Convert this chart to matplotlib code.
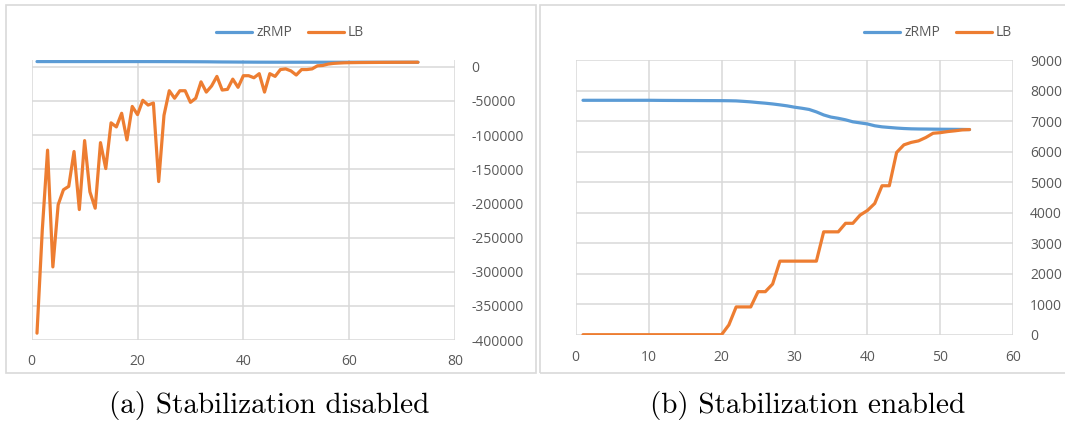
import matplotlib
matplotlib.use("Agg")
from matplotlib import pyplot as plt
from matplotlib.patches import Rectangle

# (a) stabilization disabled - iterations 1..73
iter_a = list(range(1, 74))
zrmp_a = [7700, 7700, 7700, 7700, 7700, 7700, 7700, 7700, 7700, 7700,
          7700, 7700, 7700, 7700, 7700, 7700, 7700, 7700, 7700, 7700,
          7690, 7680, 7670, 7660, 7640, 7620, 7600, 7570, 7540, 7500,
          7460, 7420, 7380, 7300, 7200, 7130, 7090, 7040, 6980, 6940,
          6900, 6850, 6810, 6790, 6770, 6760, 6750, 6745, 6740, 6738,
          6736, 6734, 6732, 6730, 6729, 6728, 6727, 6726, 6725, 6724,
          6723, 6722, 6722, 6721, 6721, 6721, 6720, 6720, 6720, 6720,
          6720, 6720, 6720]
lb_a = [-390000, -239000, -122000, -293000, -202000, -180000, -175000, -124000, -209000, -108000,
        -183000, -207000, -111000, -149000, -82000, -88000, -68000, -107000, -58000, -70000,
        -49000, -56000, -53000, -168000, -71000, -35000, -46000, -35000, -35000, -52000,
        -46000, -22000, -37000, -28000, -14000, -34000, -33000, -18000, -30000, -13000,
        -13000, -16000, -10000, -37000, -10000, -14000, -4000, -3000, -6000, -12000,
        -4000, -4000, -3000, 1500, 2000, 4000, 5000, 5500, 5900, 6100,
        6200, 6300, 6350, 6400, 6450, 6500, 6550, 6600, 6620, 6650,
        6680, 6700, 6720]

# (b) stabilization enabled - iterations 1..54
iter_b = list(range(1, 55))
zrmp_b = [7680, 7680, 7680, 7680, 7680, 7680, 7680, 7680, 7680, 7680,
          7678, 7676, 7675, 7674, 7673, 7672, 7671, 7670, 7669, 7668,
          7665, 7660, 7645, 7628, 7605, 7585, 7560, 7530, 7497, 7454,
          7420, 7380, 7300, 7200, 7130, 7090, 7040, 6975, 6940, 6905,
          6845, 6810, 6790, 6770, 6755, 6745, 6740, 6738, 6735, 6732,
          6730, 6728, 6725, 6721]
lb_b = [0, 0, 0, 0, 0, 0, 0, 0, 0, 0,
        0, 0, 0, 0, 0, 0, 0, 0, 0, 0,
        320, 910, 910, 910, 1410, 1410, 1660, 2410, 2410, 2410,
        2410, 2410, 2410, 3370, 3370, 3370, 3650, 3650, 3920, 4070,
        4300, 4880, 4880, 5970, 6220, 6300, 6350, 6460, 6600, 6620,
        6655, 6680, 6710, 6721]

yticks_a = [-400000, -350000, -300000, -250000, -200000, -150000, -100000, -50000, 0]
xticks_a = [0, 20, 40, 60, 80]
yticks_b = [0, 1000, 2000, 3000, 4000, 5000, 6000, 7000, 8000, 9000]
xticks_b = [0, 10, 20, 30, 40, 50, 60]

BLUE = '#5B9BD5'
ORANGE = '#ED7D31'
GRID = '#D9D9D9'
TXT = '#595959'

plt.rcParams['font.family'] = ['Open Sans', 'DejaVu Sans']
plt.rcParams['axes.unicode_minus'] = False

W, H = 1065, 424
fig = plt.figure(figsize=(W / 100, H / 100), dpi=100)


def px_box(x0, y0, x1, y1):
    # pixel box (top-left origin) -> figure fraction rect
    return [x0 / W, 1 - y1 / H, (x1 - x0) / W, (y1 - y0) / H]


# chart area borders
for x0, x1 in [(6, 536), (540, 1075)]:
    fig.patches.append(Rectangle((x0 / W, 1 - 373 / H), (x1 - x0) / W, 368 / H,
                                 transform=fig.transFigure, fill=False,
                                 edgecolor=GRID, linewidth=1.2))

ax_a = fig.add_axes(px_box(31.7, 60, 455, 340))
ax_b = fig.add_axes(px_box(575.7, 60, 1013.3, 334.7))


def style(ax, xt, yt, ylim, xpad):
    ax.set_xlim(xt[0], xt[-1])
    ax.set_ylim(*ylim)
    ax.set_xticks(xt)
    ax.set_yticks(yt)
    ax.set_xticklabels([str(v) for v in xt])
    ax.set_yticklabels([str(v) for v in yt])
    ax.yaxis.tick_right()
    ax.tick_params(length=0, labelsize=10, labelcolor=TXT)
    ax.tick_params(axis='y', pad=12)
    ax.tick_params(axis='x', pad=xpad)
    for s in ax.spines.values():
        s.set_visible(False)
    ax.grid(True, color=GRID, linewidth=1.1)
    ax.set_axisbelow(True)


style(ax_a, xticks_a, yticks_a, (-400000, 10000), 10)
style(ax_b, xticks_b, yticks_b, (0, 9000), 11)

for ax, it, z, lb, cx in [(ax_a, iter_a, zrmp_a, lb_a, 290),
                          (ax_b, iter_b, zrmp_b, lb_b, 938)]:
    ax.plot(it, z, color=BLUE, lw=2.3, label='zRMP', solid_capstyle='round')
    ax.plot(it, lb, color=ORANGE, lw=2.3, label='LB', solid_capstyle='round')
    ax.legend(loc='center', bbox_to_anchor=(cx / W, 1 - 33 / H),
              bbox_transform=fig.transFigure, ncol=2, frameon=False,
              fontsize=10, labelcolor=TXT, handlelength=2.6,
              handletextpad=0.3, columnspacing=1.1)

# captions
fig.text(269 / W, 1 - 406 / H, '(a) Stabilization disabled', family='cmr10',
         fontsize=21, ha='center', va='center')
fig.text(808 / W, 1 - 406 / H, '(b) Stabilization enabled', family='cmr10',
         fontsize=21, ha='center', va='center')

fig.savefig('out.png', dpi=100)
plt.close(fig)
